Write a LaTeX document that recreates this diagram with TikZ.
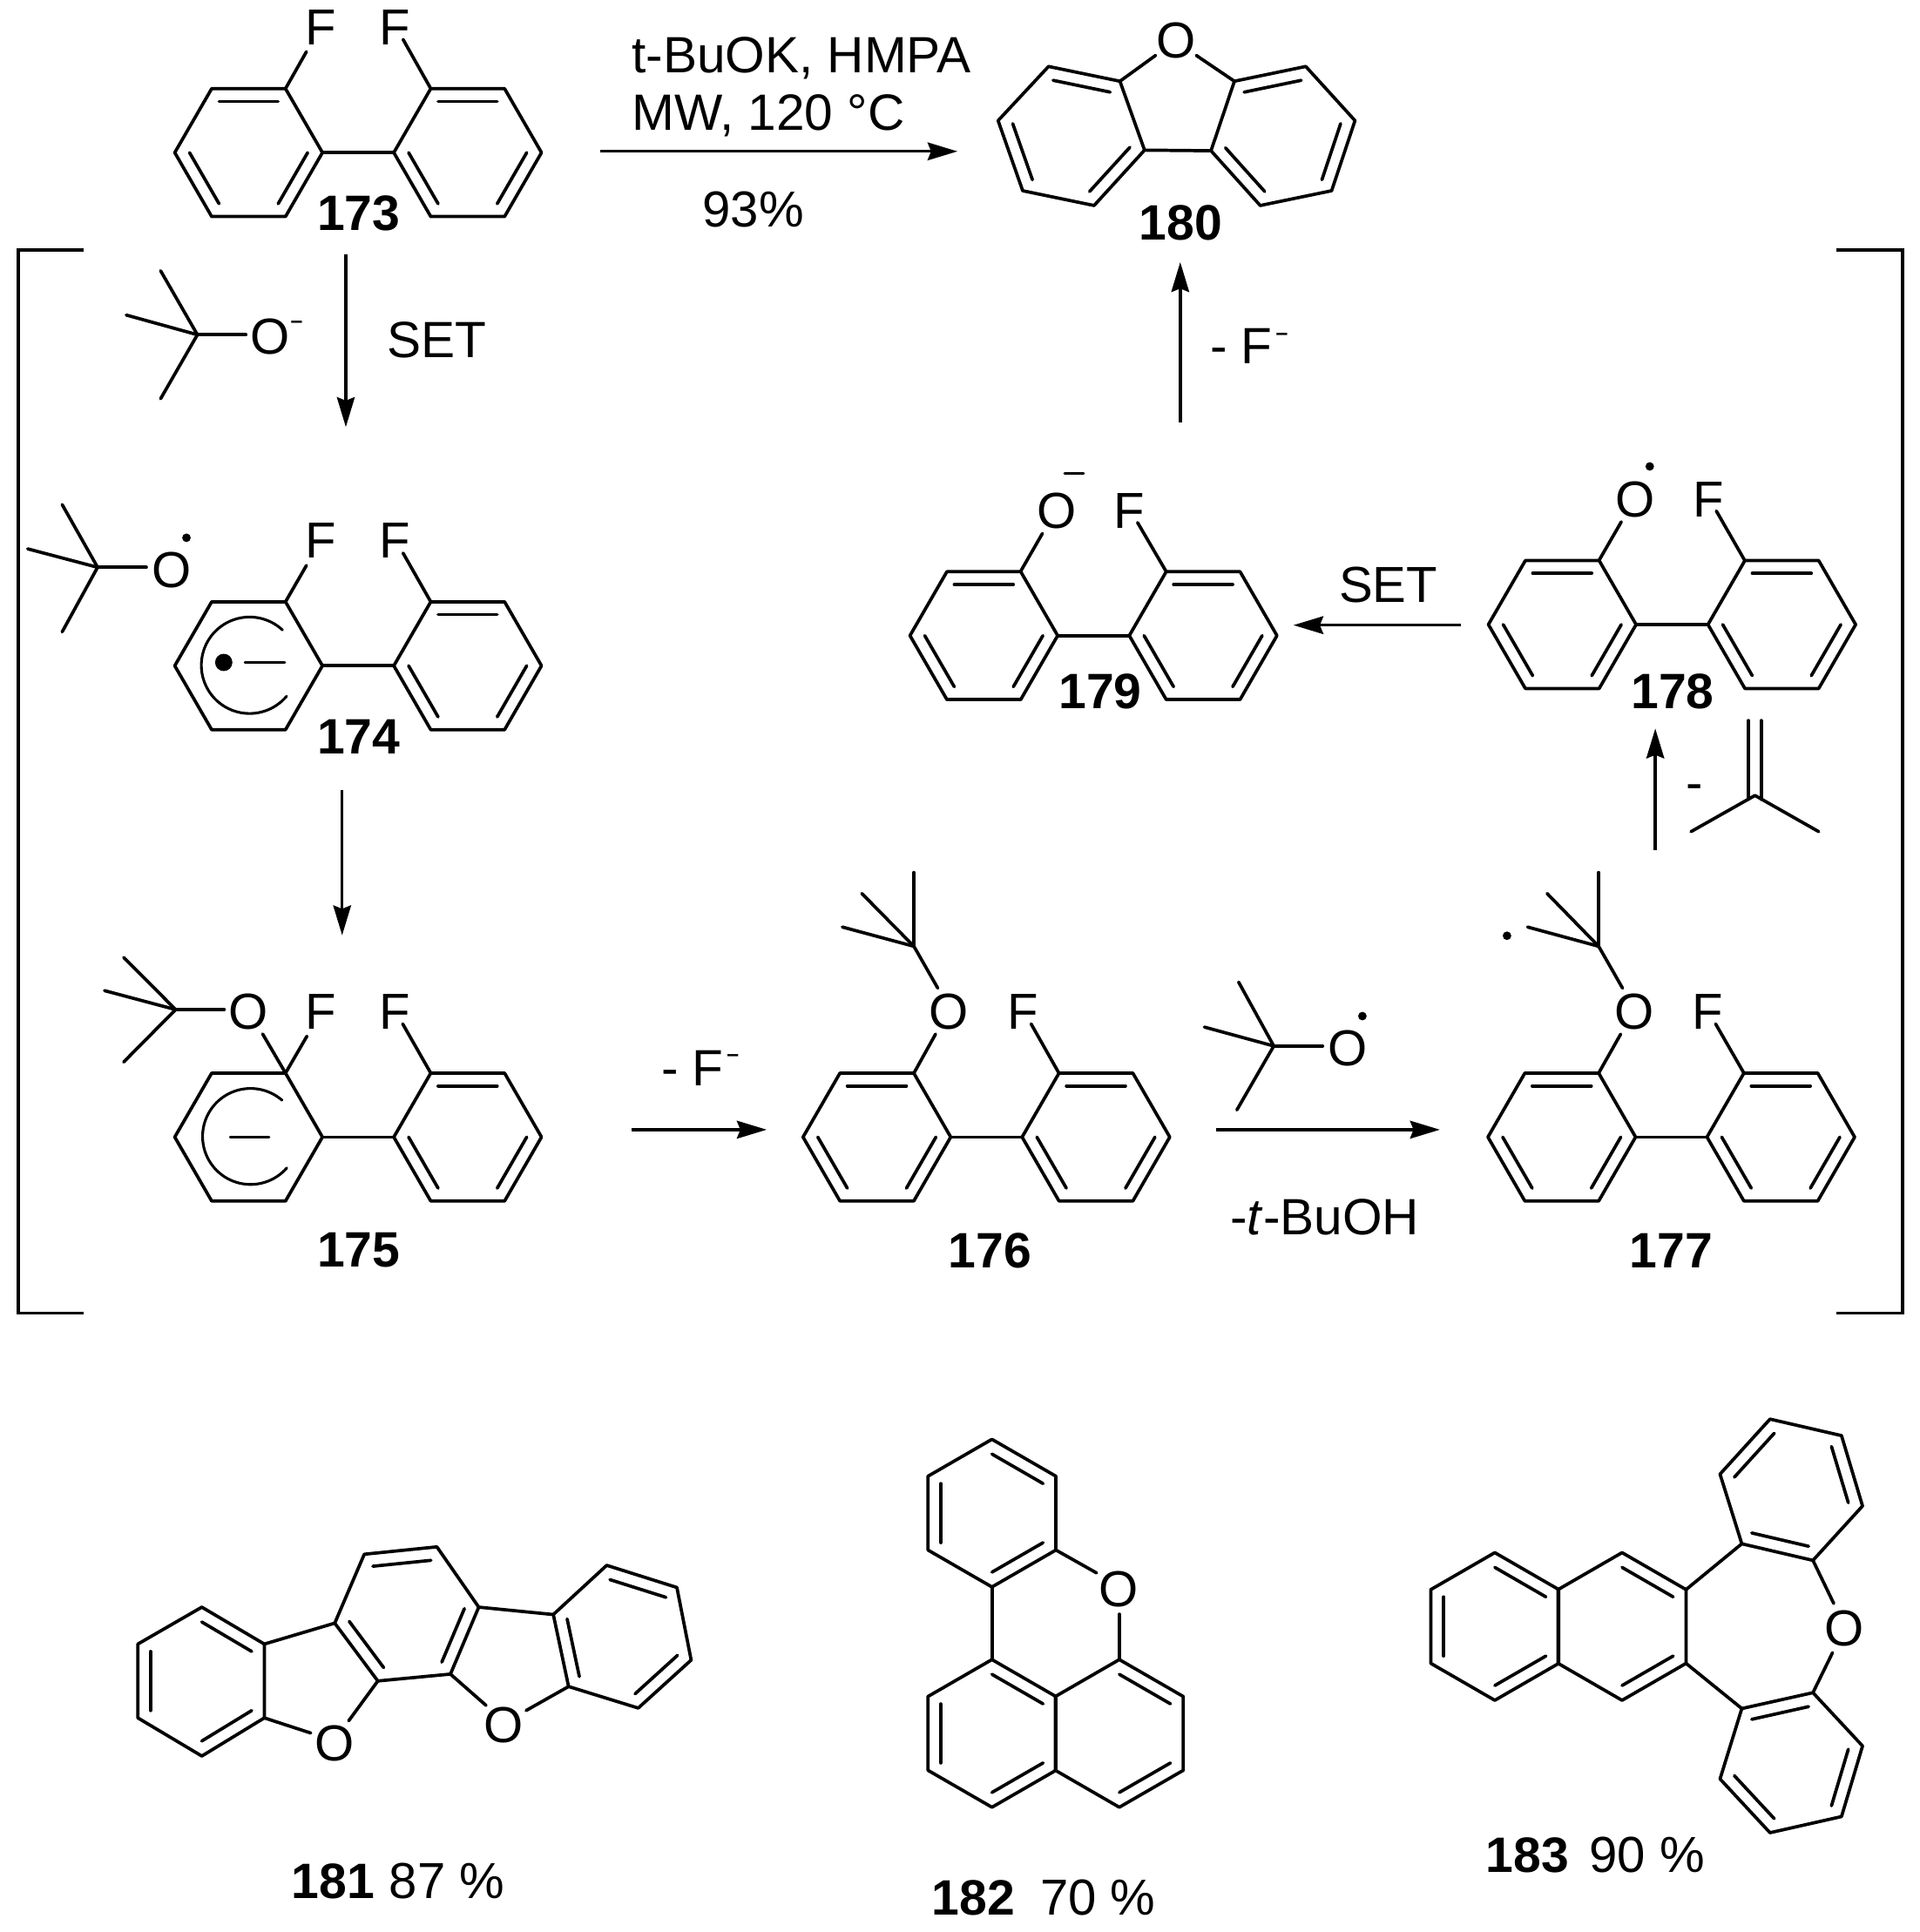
\documentclass[tikz,border=0pt]{standalone}
\usepackage{fontspec}
\setmainfont{Liberation Sans}
\usetikzlibrary{calc,arrows.meta}
\tikzset{
  bond/.style={line width=1.5pt,line join=round,line cap=round},
  thinbond/.style={line width=1.1pt,line cap=round},
  rxn/.style={line width=1.35pt,-{Stealth[length=13.8pt,width=8.2pt,inset=1.6pt]}},
  brk/.style={line width=1.5pt,line join=miter},
  atom/.style={inner sep=0pt,font=\fontsize{23.4}{25}\selectfont},
  lab/.style={inner sep=0pt,font=\fontsize{23}{25}\selectfont\bfseries},
  txt/.style={inner sep=0pt,anchor=base west,font=\fontsize{23.6}{25}\selectfont},
  elec/.style={fill=black,draw=none,circle,inner sep=0pt},
}
\newcommand{\supm}{\raisebox{11pt}{\fontsize{10}{10}\selectfont\bfseries\kern1.5pt –}}
% draw current hexagon h0..h5 with inner double bonds on listed edges
\newcommand{\hexpaint}[1]{%
  \draw[bond] (h0)--(h1)--(h2)--(h3)--(h4)--(h5)--cycle;
  \coordinate (hc) at (barycentric cs:h0=1,h1=1,h2=1,h3=1,h4=1,h5=1);
  \def\tmplist{#1}%
  \ifx\tmplist\empty\else
  \foreach \e in {#1}{%
    \pgfmathtruncatemacro{\ff}{mod(\e+1,6)}%
    \draw[bond] ($(h\e)!0.2!(hc)$) -- ($(h\ff)!0.2!(hc)$);
  }\fi
}
% regular ring: cx cy r a0 list
\newcommand{\ring}[5]{%
  \foreach \i in {0,...,5}{\coordinate (h\i) at ({#1+#3*cos(#4+60*\i)},{#2+#3*sin(#4+60*\i)});}
  \hexpaint{#5}%
}
% irregular ring: six vertices, list
\newcommand{\hexv}[7]{%
  \coordinate (h0) at (#1);\coordinate (h1) at (#2);\coordinate (h2) at (#3);
  \coordinate (h3) at (#4);\coordinate (h4) at (#5);\coordinate (h5) at (#6);
  \hexpaint{#7}%
}
% biphenyl with given left/right centres
\newcommand{\biph}[5]{% lcx rcx cy leftlist rightlist
  \ring{#1}{#3}{60}{0}{#4}
  \ring{#2}{#3}{60}{0}{#5}
  \draw[bond] (#1+60,#3) -- (#2-60,#3);
}
\newcommand{\carc}[5]{% cx cy r start end
  \draw[line width=1.25pt,line cap=round] plot[domain=#4:#5,samples=70,smooth] ({#1+#3*cos(\x)},{#2+#3*sin(\x)});
}
\begin{document}
\begin{tikzpicture}[x=0.02cm,y=-0.02cm]
\useasboundingbox (0,0) rectangle (1560,1570);
% brackets
\draw[brk] (68,203)--(15,203)--(15,1067)--(68,1067);
\draw[brk] (1492,203)--(1546,203)--(1546,1067)--(1492,1067);

% 173
\biph{202}{380}{124}{0,2,4}{0,2,4}
\node[atom] (f173a) at (261,22.5) {F};
\node[atom] (f173b) at (320.5,22.5) {F};
\draw[bond] (232,72)--(249,42);
\draw[bond] (350,72)--(327.5,32);
\node[lab] (n173) at (291.5,173) {173};

% main arrow
\coordinate (a0s) at (488,123); \coordinate (a0e) at (778,123);
\draw[rxn] (a0s)--(a0e);
\node[txt] (t1) at (513,59) {t-BuOK, HMPA};
\node[txt] (t2) at (513,106) {MW, 120 °C};
\node[atom] (t3) at (612,170) {93\%};

% 180
\hexv{811,98}{852,54}{910,66}{930,122}{889,167}{831,155}{1,3,5}
\hexv{1101,98}{1061,54}{1003,66}{984,122.5}{1024,167}{1082,155}{1,3,5}
\node[atom] (o180) at (956,33) {O};
\draw[bond] (910,66)--(939,45);
\draw[bond] (1003,66)--(972,45);
\draw[bond] (930,122)--(984,122.5);
\node[lab] (n180) at (959.5,181) {180};

% first arrow, t-BuO-
\coordinate (a1s) at (281,207); \coordinate (a1e) at (281,347);
\draw[rxn] (a1s)--(a1e);
\draw[bond] (160.4,272)--(130.5,220);
\draw[bond] (160.4,272)--(102.6,256);
\draw[bond] (160.4,272)--(130.5,324);
\draw[bond] (160.4,272)--(199.8,272);
\node[atom] (o0) at (219.4,273.6) {O};
\node[atom] (m0) at (241,263.5) {\fontsize{10}{10}\selectfont\bfseries –};
\node[txt] (set1) at (314,290.8) {SET};

% 174
\draw[bond] (79.3,461)--(50.5,410);
\draw[bond] (79.3,461)--(22.5,446);
\draw[bond] (79.3,461)--(50.5,513.5);
\draw[bond] (79.3,461)--(118.9,461);
\node[atom] (o174) at (139.4,463) {O};
\node[elec,minimum size=3.96pt] (d174) at (151.5,437) {};
\biph{202}{380}{541}{}{0,2,4}
\carc{202.8}{540.6}{39.2}{-47}{-320}
\node[elec,minimum size=8pt] (e174) at (181.8,538.3) {};
\draw[thinbond] (199,538.3)--(231.4,538.3);
\node[atom] (f174a) at (261,439.5) {F};
\node[atom] (f174b) at (320.5,439.5) {F};
\draw[bond] (232,489)--(249,459.5);
\draw[bond] (350,489)--(327.5,449.4);
\node[lab] (n174) at (291.5,599) {174};

\coordinate (a2s) at (278,642); \coordinate (a2e) at (278,760);
\draw[rxn] (a2s)--(a2e);

% 175
\draw[bond] (142.7,820.4)--(100.5,778);
\draw[bond] (142.7,820.4)--(84.9,805);
\draw[bond] (142.7,820.4)--(100.5,863);
\draw[bond] (142.7,820.4)--(182.2,820.4);
\node[atom] (o175) at (201.7,822) {O};
\node[atom] (f175a) at (261,822) {F};
\node[atom] (f175b) at (320.5,822) {F};
\biph{202}{380}{924}{}{0,2,4}
\draw[bond] (232,872)--(213.4,840.2);
\draw[bond] (232,872)--(249.4,842);
\draw[bond] (350,872)--(327.2,832);
\carc{203.6}{923.5}{39}{-49}{-319}
\draw[thinbond] (187,924)--(218.7,924);
\node[lab] (n175) at (291.5,1016) {175};

\coordinate (a3s) at (513,918); \coordinate (a3e) at (623,918);
\draw[rxn] (a3s)--(a3e);
\node[txt] (mf1) at (537,882) {- F\supm};

% 176
\biph{712.5}{890.5}{924}{0,2,4}{0,2,4}
\draw[bond] (742.6,872)--(760.2,840.3);
\draw[bond] (860.4,872)--(837.8,832);
\node[atom] (o176) at (771,822) {O};
\node[atom] (f176) at (831,822) {F};
\draw[bond] (742.6,769)--(762,803);
\draw[bond] (742.6,769)--(742.6,709);
\draw[bond] (742.6,769)--(700.2,726);
\draw[bond] (742.6,769)--(684.4,753.3);
\node[lab] (n176) at (804.5,1016) {176};

\coordinate (a4s) at (988,918); \coordinate (a4e) at (1170,918);
\draw[rxn] (a4s)--(a4e);
\draw[bond] (1035,850)--(1006.4,798);
\draw[bond] (1035,850)--(978.6,834.6);
\draw[bond] (1035,850)--(1005,902);
\draw[bond] (1035,850)--(1074.7,850);
\node[atom] (o2) at (1095,852) {O};
\node[elec,minimum size=3.96pt] (d2) at (1107,825.7) {};
\node[txt,anchor=base] (tbu) at (1076.5,1003) {-\textit{t}-BuOH};

% 177
\biph{1269}{1447}{924}{0,2,4}{0,2,4}
\draw[bond] (1299,872)--(1316.9,840.3);
\draw[bond] (1417,872)--(1394,832);
\node[atom] (o177) at (1328.3,822) {O};
\node[atom] (f177) at (1387.5,822) {F};
\draw[bond] (1299,769)--(1318.4,803);
\draw[bond] (1299,769)--(1299,709);
\draw[bond] (1299,769)--(1257,726);
\draw[bond] (1299,769)--(1241.2,753.3);
\node[elec,minimum size=3.96pt] (d177) at (1224.5,760.4) {};
\node[lab] (n177) at (1358,1016) {177};

\coordinate (a5s) at (1345,691); \coordinate (a5e) at (1345,592);
\draw[rxn] (a5s)--(a5e);
\node[atom] (m5) at (1377,644) {-};
\draw[bond] (1426,646.4)--(1374,675.8);
\draw[bond] (1426,646.4)--(1477.8,675.8);
\draw[bond] (1420.5,585.5)--(1420.5,649.5);
\draw[bond] (1431,585.5)--(1431,649.5);

% 178
\biph{1269.4}{1447.8}{507.5}{0,2,4}{0,2,4}
\draw[bond] (1299.2,455.5)--(1317.4,424);
\draw[bond] (1417.7,455.5)--(1394.6,415.2);
\node[atom] (o178) at (1328.5,405.7) {O};
\node[atom] (f178) at (1388,405.7) {F};
\node[elec,minimum size=3.96pt] (d178) at (1340.5,379) {};
\node[lab] (n178) at (1359,562) {178};

\coordinate (a6s) at (1187,508); \coordinate (a6e) at (1051,508);
\draw[rxn] (a6s)--(a6e);
\node[atom] (set2) at (1128,475) {SET};

% 179
\biph{799.4}{977.6}{516.5}{0,2,4}{0,2,4}
\draw[bond] (829.2,464.5)--(847,433.5);
\draw[bond] (947.6,464.5)--(924.3,424.6);
\node[atom] (o179) at (858.7,415) {O};
\node[atom] (f179) at (917.7,415) {F};
\draw[thinbond] (865,384.8)--(880.5,384.8);
\node[lab] (n179) at (894,562) {179};

\coordinate (a7s) at (959,343); \coordinate (a7e) at (959,213);
\draw[rxn] (a7s)--(a7e);
\node[txt] (mf2) at (983,295.5) {- F\supm};

% 181
\hexv{112,1336}{164,1306}{214.8,1336}{214.8,1396}{164,1427}{112,1396}{1,3,5}
\hexv{272,1319}{296,1263}{355,1257}{389,1306}{366,1360.4}{307,1366}{1,3,5}
\hexv{449.6,1312}{493,1272}{550,1290}{561.6,1349}{518.6,1388}{462,1370.5}{1,3,5}
\draw[bond] (214.8,1336)--(272,1319);
\draw[bond] (389,1306)--(449.6,1312);
\draw[bond] (214.8,1396)--(252.5,1408.3);
\draw[bond] (307,1366)--(283.3,1398.4);
\draw[bond] (366,1360.4)--(395,1385.9);
\draw[bond] (462,1370.5)--(427.5,1390);
\node[atom] (o181a) at (271.6,1416.5) {O};
\node[atom] (o181b) at (409,1402) {O};
\node[lab,anchor=west] (n181) at (236.5,1528.6) {181};
\node[atom,anchor=west] (p181) at (316,1528.6) {87 \%};

% 182
\ring{806}{1229.6}{60}{30}{0,2,4}
\ring{806}{1408.6}{60}{30}{0,2,4}
\ring{909.5}{1408.6}{60}{30}{0,4}
\draw[bond] (806,1289.6)--(806,1348.6);
\draw[bond] (858,1259.6)--(891,1278.2);
\draw[bond] (909.5,1348.6)--(909.5,1311.7);
\node[atom] (o182) at (908.7,1291.3) {O};
\node[lab,anchor=west] (n182) at (757,1542) {182};
\node[atom,anchor=west] (p182) at (845,1542) {70 \%};

% 183
\ring{1214.6}{1321.7}{60}{30}{0,2,4}
\ring{1318}{1321.7}{60}{30}{0,4}
\hexv{1415.3,1254.5}{1397.6,1197.9}{1438.2,1153.2}{1496.3,1166.6}{1513.4,1223.8}{1473.1,1268}{1,3,5}
\hexv{1415.3,1388.4}{1397.6,1445.6}{1438.2,1489.3}{1496.3,1476.2}{1513.4,1418.8}{1473.1,1375.5}{1,3,5}
\draw[bond] (1370,1291.7)--(1415.3,1254.5);
\draw[bond] (1370,1351.7)--(1415.3,1388.4);
\draw[bond] (1473.1,1268)--(1490,1303);
\draw[bond] (1473.1,1375.5)--(1489,1343);
\node[atom] (o183) at (1498.4,1323.4) {O};
\node[lab,anchor=west] (n183) at (1207,1507.5) {183};
\node[atom,anchor=west] (p183) at (1291,1507.5) {90 \%};
\end{tikzpicture}
\end{document}
